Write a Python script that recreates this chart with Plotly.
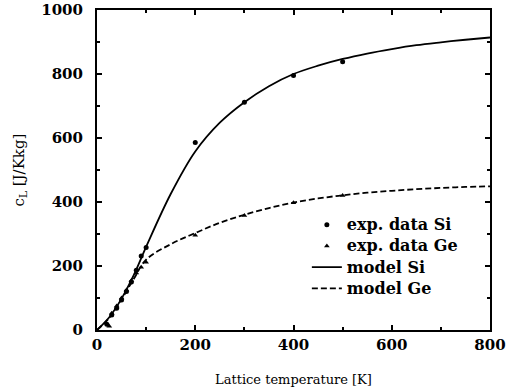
import plotly.graph_objects as go

# experimental data
si_T = [20, 30, 40, 50, 60, 70, 80, 90, 100, 200, 300, 400, 500]
si_c = [18, 47, 68, 94, 120, 150, 187, 231, 258, 586, 712, 795, 838]
ge_T = [25, 30, 40, 50, 60, 70, 80, 90, 100, 200, 300, 400, 500]
ge_c = [12, 52, 75, 100, 125, 155, 178, 196, 212, 296, 358, 398, 420]

# model curves
model_T = [0, 25, 50, 75, 100, 150, 200, 250, 300, 350, 400, 450, 500, 550, 600, 650, 700, 750, 800]
model_si = [0, 40, 98, 172, 260, 425, 558, 648, 712, 762, 800, 826, 847, 864, 878, 890, 899, 907, 914]
model_ge = [0, 38, 96, 160, 220, 268, 303, 335, 360, 381, 398, 411, 421, 429, 435, 440, 444, 447, 449]

x_ticks = [0, 200, 400, 600, 800]
y_ticks = [0, 200, 400, 600, 800, 1000]

serif = "DejaVu Serif, serif"


def leg(txt):
    return f"<span style='font-size:16px'><b>{txt}</b></span>"


fig = go.Figure()
fig.add_trace(go.Scatter(x=si_T, y=si_c, mode="markers", name=leg("exp. data Si"),
                         marker=dict(symbol="circle", size=5, color="black")))
fig.add_trace(go.Scatter(x=ge_T, y=ge_c, mode="markers", name=leg("exp. data Ge"),
                         marker=dict(symbol="triangle-up", size=5, color="black")))
fig.add_trace(go.Scatter(x=model_T, y=model_si, mode="lines", name=leg("model Si"),
                         line=dict(color="black", width=1.8, shape="spline")))
fig.add_trace(go.Scatter(x=model_T, y=model_ge, mode="lines", name=leg("model Ge"),
                         line=dict(color="black", width=1.8, dash="6px,3px", shape="spline")))

axis_common = dict(
    showline=True, linecolor="black", linewidth=2, mirror="ticks",
    ticks="inside", ticklen=5, tickwidth=1.5, tickcolor="black",
    showgrid=False, zeroline=False, automargin=False, ticklabeloverflow="allow",
    tickfont=dict(family=serif, size=15, color="black"),
)

fig.update_xaxes(range=[0, 800], tickvals=x_ticks, ticktext=[f"<b>{v}</b>" for v in x_ticks],
                 minor=dict(dtick=100, ticks="inside", ticklen=3, tickcolor="black"),
                 title=dict(text="Lattice temperature [K]", font=dict(family=serif, size=13, color="black"),
                            standoff=22),
                 **axis_common)
fig.update_yaxes(range=[0, 1000], tickvals=y_ticks, ticktext=[f"<b>{v}</b>" for v in y_ticks],
                 minor=dict(dtick=100, ticks="inside", ticklen=3, tickcolor="black"),
                 ticklabelstandoff=9,
                 title=dict(text="c<sub>L</sub> [J/Kkg]", font=dict(family=serif, size=15, color="black"),
                            standoff=13),
                 **axis_common)

fig.update_layout(
    width=506, height=391,
    margin=dict(l=97, r=16, t=10, b=61),
    plot_bgcolor="white", paper_bgcolor="white",
    showlegend=True,
    legend=dict(x=0.534, y=0.3775, xanchor="left", yanchor="top",
                font=dict(family=serif, size=14, color="black"),
                bgcolor="rgba(0,0,0,0)", tracegroupgap=0),
)

# remove the page's default body margin so the figure fills the window exactly
fig.write_html("out.html", config={"displayModeBar": False},
               post_script="document.body.style.margin='0';")
